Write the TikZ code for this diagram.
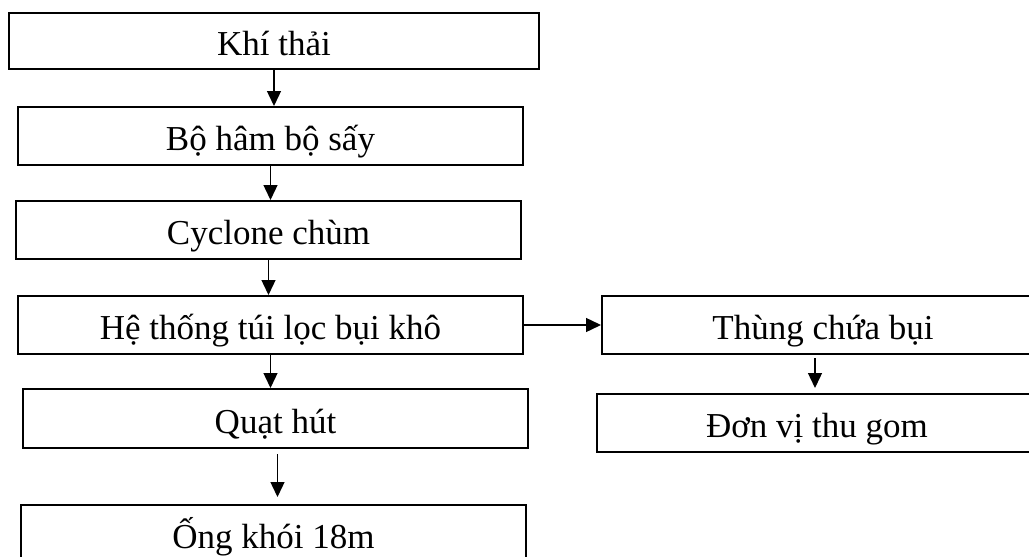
\documentclass[tikz,border=0pt]{standalone}
\usepackage{fontspec}
\setmainfont{Liberation Serif}
\usetikzlibrary{arrows.meta}

\begin{document}
\begin{tikzpicture}[x=0.5pt, y=-0.5pt,
		box/.style={rectangle,draw,line width=1pt,minimum height=29pt,inner sep=0pt,text height=14.5pt,text depth=0pt,font=\fontsize{17.5pt}{20pt}\selectfont},
		flow/.style={->,line width=0.7pt},
		>={Triangle[length=7.5pt,width=7pt]}]
		\useasboundingbox (0, 0) rectangle (1029, 557);
		\clip (0, 0) rectangle (1029, 557);

		\node[box,minimum width=265pt,minimum height=28pt] (khithai) at (274, 41) {Khí thải};
		\node[box,minimum width=252.5pt] (boham) at (270.5, 136) {Bộ hâm bộ sấy};
		\node[box,minimum width=252.5pt] (cyclone) at (268.5, 230) {Cyclone chùm};
		\node[box,minimum width=252.5pt] (tuiloc) at (270.5, 325) {Hệ thống túi lọc bụi khô};
		\node[box,minimum width=252.5pt,minimum height=29.5pt] (quathut) at (275.5, 418.5) {Quạt hút};
		\node[box,minimum width=252.5pt] (ongkhoi) at (273.5, 534) {Ống khói 18m};

		\node[box,minimum width=221pt] (thungbui) at (823, 325) {Thùng chứa bụi};
		\node[box,minimum width=220pt] (thugom) at (817, 423) {Đơn vị thu gom};

		\draw [flow] (khithai.south) -- (khithai.south |- boham.north);
		\draw [flow] (boham.south) -- (boham.south |- cyclone.north);
		\draw [flow] (cyclone.south) -- (cyclone.south |- tuiloc.north);
		\draw [flow] (tuiloc.south) -- (tuiloc.south |- quathut.north);
		\draw [flow,shorten <=2.5pt,shorten >=3.5pt] ([xshift=1pt]quathut.south) -- ([xshift=1pt]quathut.south |- ongkhoi.north);

		\draw [flow] (tuiloc.east) -- (thungbui.west);
		\draw [flow,shorten <=1.5pt,shorten >=2.5pt] ([xshift=-1pt]thugom.north |- thungbui.south) -- ([xshift=-1pt]thugom.north);
\end{tikzpicture}
\end{document}
